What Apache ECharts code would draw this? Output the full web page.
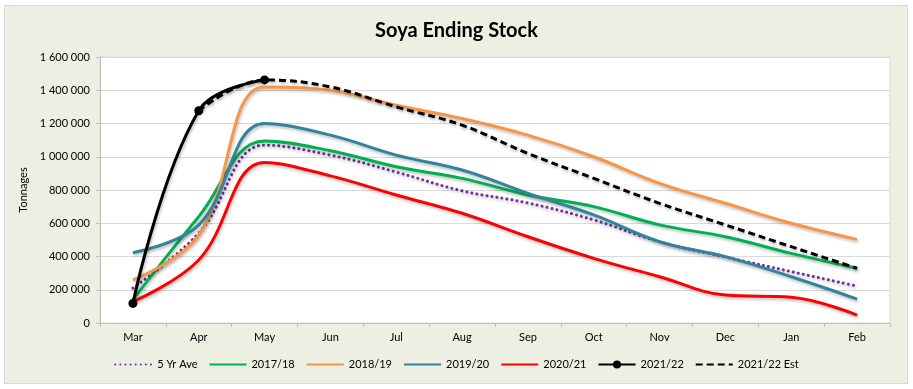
<!DOCTYPE html>
<html><head><meta charset="utf-8">
<script src="https://cdn.jsdelivr.net/npm/echarts@6/dist/echarts.min.js"></script>
<style>html,body{margin:0;padding:0;background:#fff;}#c{width:913px;height:389px;}</style>
</head><body><div id="c"></div>
<script>
const months = ['Mar','Apr','May','Jun','Jul','Aug','Sep','Oct','Nov','Dec','Jan','Feb'];
const yTicks = [0,200000,400000,600000,800000,1000000,1200000,1400000,1600000];
const fiveYrAve = [210000,541000,1070000,1010000,908000,795000,722000,620000,489000,397000,309000,222000];
const s1718 = [140000,640000,1095000,1036000,940000,870000,770000,700000,590000,519000,419000,329000];
const s1819 = [259000,529000,1420000,1400000,1310000,1230000,1130000,1000000,840000,720000,600000,503000];
const s1920 = [423000,590000,1200000,1130000,1010000,920000,780000,650000,489000,399000,278000,144000];
const s2021 = [128000,379000,965000,885000,770000,660000,519000,389000,278000,168000,155000,48000];
const s2122 = [118000,1277000,1462000,null,null,null,null,null,null,null,null,null];
const s2122Est = [null,1277000,1462000,1420000,1300000,1190000,1020000,870000,720000,590000,459000,329000];
const legendNames = ['5 Yr Ave','2017/18','2018/19','2019/20','2020/21','2021/22','2021/22 Est'];

const font = 'Lato';
const chart = echarts.init(document.getElementById('c'), null, {renderer:'canvas'});
function fmt(v){return String(v).replace(/\B(?=(\d{3})+(?!\d))/g,' ');}
const shadow = {shadowColor:'rgba(0,0,0,0.25)', shadowBlur:3, shadowOffsetX:1, shadowOffsetY:2};
function line(name, data, color, extra){
  return Object.assign({
    name, type:'line', data, smooth:0.4, symbol:'none',
    lineStyle:Object.assign({color, width:3}, shadow, (extra&&extra.ls)||{}),
    itemStyle:{color}, emphasis:{disabled:true}
  }, (extra&&extra.o)||{});
}
chart.setOption({
  animation:false,
  backgroundColor:'#ffffff',
  textStyle:{fontFamily:font},
  graphic:[{type:'rect', z:-100, shape:{x:4.5,y:5.5,width:903,height:378}, style:{fill:'#EDEFE2', stroke:'#D9D9D9', lineWidth:1}}],
  title:{text:'Soya Ending Stock', left:'center', top:16, textStyle:{fontFamily:font, fontSize:20, fontWeight:'bold', color:'#000'}},
  grid:{left:100, right:23, top:57, bottom:66, show:true, backgroundColor:'#ffffff', borderColor:'#D9D9D9', borderWidth:1},
  legend:{bottom:14, left:'center', itemWidth:37, itemHeight:10, itemGap:11,
    textStyle:{fontFamily:font, fontSize:11, color:'#000'},
    data:legendNames.map(n => n === '2021/22' ? {name:n} : {name:n, itemStyle:{color:'rgba(0,0,0,0)', borderWidth:0}})},
  xAxis:{type:'category', data:months, boundaryGap:true,
    axisLine:{lineStyle:{color:'#BFBFBF'}}, axisTick:{show:true, length:4, lineStyle:{color:'#BFBFBF'}},
    axisLabel:{color:'#000', fontSize:11, fontFamily:font, margin:9}},
  yAxis:{type:'value', min:yTicks[0], max:yTicks[yTicks.length-1], interval:200000,
    name:'Tonnages', nameLocation:'middle', nameGap:60, nameTextStyle:{fontSize:11, fontFamily:font, color:'#000'},
    axisLine:{show:true, lineStyle:{color:'#BFBFBF'}}, axisTick:{show:true, length:4, lineStyle:{color:'#BFBFBF'}},
    splitLine:{lineStyle:{color:'#D9D9D9'}},
    axisLabel:{color:'#000', fontSize:11, fontFamily:font, margin:10, formatter:fmt}},
  series:[
    line('5 Yr Ave', fiveYrAve, '#7030A0', {ls:{type:[0.1,5], cap:'round', width:3}}),
    line('2017/18', s1718, '#00B050'),
    line('2018/19', s1819, '#F79646'),
    line('2019/20', s1920, '#31849B'),
    line('2020/21', s2021, '#FF0000'),
    line('2021/22', s2122, '#000000', {o:{symbol:'circle', symbolSize:9, showSymbol:true}}),
    line('2021/22 Est', s2122Est, '#000000', {ls:{type:[7,4], width:3}})
  ]
});
</script></body></html>
